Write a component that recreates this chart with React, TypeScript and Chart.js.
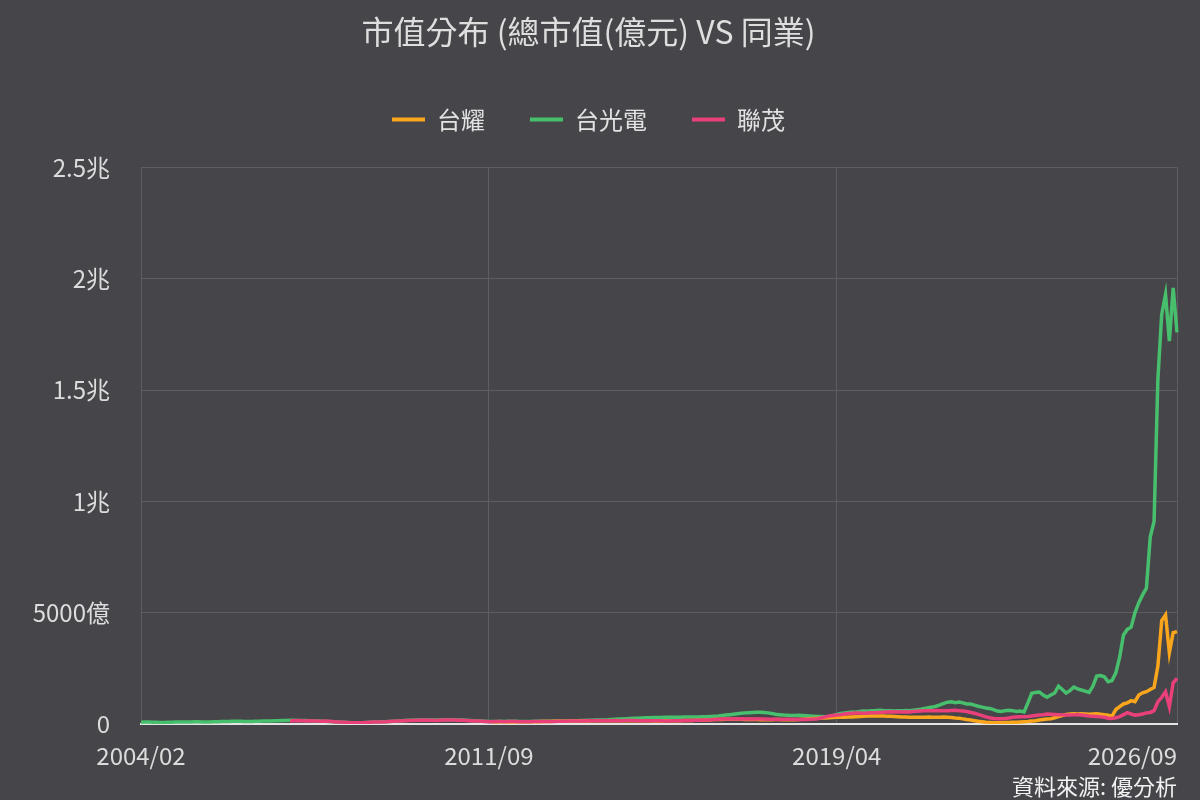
import { useEffect, useRef } from 'react';
import { Chart, registerables } from 'chart.js';

Chart.register(...registerables);

// monthly categories, 2004/02 .. 2026/09
const firstMonth = '2004/02';
const monthCount = 272;
const months: string[] = [];
for (let i = 0; i < monthCount; i++) {
    const m = 1 + i;
    months.push(`${2004 + Math.floor(m / 12)}/${String((m % 12) + 1).padStart(2, '0')}`);
}

const tickLabels = ['2004/02', '2011/09', '2019/04', '2026/09'];

// 總市值 (億元)
const taiguangStart = firstMonth;
const taiguang = [
    80, 85, 85, 80, 75, 70, 70, 75, 80, 85, 90, // 2004
    90, 95, 95, 100, 100, 95, 90, 95, 100, 105, 110, 110,
    115, 120, 125, 120, 115, 110, 115, 120, 125, 130, 135, 140,
    145, 150, 155, 160, 165, 165, 160, 160, 155, 150, 145, 140,
    130, 125, 115, 105, 95, 85, 80, 70, 60, 55, 55, 60, // 2008
    70, 80, 85, 90, 100, 105, 115, 125, 135, 145, 155, 165,
    170, 180, 185, 190, 185, 180, 175, 185, 190, 195, 195, 190,
    185, 180, 170, 160, 150, 140, 130, 120, 110, 110, 115, 120,
    115, 120, 125, 120, 115, 110, 110, 115, 120, 120, 125, 120, // 2012
    125, 130, 135, 140, 140, 145, 150, 150, 155, 160, 165, 170,
    175, 180, 185, 190, 200, 210, 220, 230, 240, 250, 255, 260,
    270, 280, 285, 290, 290, 295, 300, 300, 305, 300, 305, 310,
    310, 315, 320, 320, 325, 330, 340, 350, 360, 380, 400, 420, // 2016
    440, 460, 480, 500, 510, 520, 525, 530, 520, 500, 470, 440,
    420, 400, 390, 380, 385, 390, 380, 370, 360, 350, 340, 340,
    330, 340, 380, 430, 470, 500, 520, 540, 530, 560, 580, 570,
    590, 600, 620, 610, 590, 600, 580, 600, 590, 610, 600, 620, // 2020
    640, 660, 700, 730, 760, 800, 860, 930, 980, 1000, 960, 990,
    950, 900, 900, 850, 800, 760, 720, 700, 650, 580, 560, 600,
    620, 600, 560, 580, 540, 950, 1380, 1420, 1440, 1300, 1200, 1300,
    1390, 1700, 1550, 1390, 1500, 1660, 1580, 1530, 1480, 1420, 1700, 2150, // 2024
    2180, 2120, 1900, 1950, 2300, 3000, 4000, 4250, 4350, 5000, 5450, 5800,
    6100, 8400, 9100, 15500, 18400, 19300, 17200, 19600, 17600, // 2026
];

const lianmaoStart = '2007/05';
const lianmao = [
    140, 150, 160, 150, 140, 150, 140, 130, // 2007
    120, 130, 120, 110, 90, 85, 80, 70, 60, 55, 55, 60,
    70, 80, 85, 90, 95, 100, 110, 120, 130, 140, 150, 160,
    160, 170, 170, 175, 170, 165, 160, 170, 175, 180, 180, 175, // 2010
    170, 165, 160, 150, 140, 130, 120, 110, 100, 100, 110, 110,
    105, 110, 115, 110, 105, 100, 100, 105, 110, 110, 115, 110,
    110, 115, 120, 125, 125, 130, 130, 135, 140, 140, 145, 150,
    150, 145, 150, 150, 150, 155, 150, 150, 155, 160, 155, 150, // 2014
    150, 145, 150, 150, 150, 145, 140, 140, 145, 150, 150, 155,
    160, 160, 165, 170, 175, 180, 190, 200, 210, 220, 225, 230,
    225, 230, 235, 230, 225, 220, 230, 225, 220, 215, 210, 210,
    205, 210, 210, 215, 210, 205, 200, 200, 210, 220, 240, 280, // 2018
    320, 360, 380, 400, 420, 450, 470, 480, 490, 490, 480, 490,
    500, 510, 520, 530, 540, 550, 540, 550, 540, 550, 540, 560,
    570, 580, 590, 600, 600, 610, 600, 590, 600, 610, 620, 600,
    580, 560, 520, 480, 430, 380, 320, 280, 250, 240, 240, 250, // 2022
    270, 300, 320, 330, 330, 340, 360, 380, 400, 420, 450, 440,
    430, 420, 410, 400, 400, 410, 420, 400, 380, 360, 350, 340,
    320, 300, 260, 250, 280, 330, 420, 510, 450, 400, 420, 450,
    500, 520, 600, 1000, 1200, 1450, 780, 1850, 2050, // 2026
];

const taiyaoStart = '2011/10';
const taiyao = [
    90, 95, 100, // 2011
    100, 95, 90, 95, 100, 100, 105, 100, 100, 105, 110, 110,
    115, 120, 120, 125, 125, 130, 130, 135, 140, 140, 140, 145,
    145, 150, 150, 145, 150, 150, 150, 145, 145, 150, 150, 150, // 2014
    150, 150, 145, 140, 140, 140, 145, 145, 150, 150, 150, 155,
    160, 160, 165, 170, 175, 180, 190, 200, 200, 205, 210, 210,
    210, 215, 210, 205, 200, 200, 200, 195, 195, 190, 195, 200,
    200, 195, 190, 190, 195, 200, 210, 220, 240, 250, 260, 270, // 2018
    270, 280, 290, 300, 300, 300, 310, 320, 330, 340, 350, 360,
    360, 360, 360, 355, 350, 350, 340, 330, 320, 310, 300, 300,
    300, 300, 300, 310, 300, 300, 300, 310, 300, 290, 270, 255,
    230, 200, 180, 150, 120, 100, 80, 70, 60, 60, 60, 70, // 2022
    70, 80, 80, 90, 100, 110, 130, 150, 180, 200, 220, 240,
    280, 330, 380, 430, 450, 460, 450, 460, 450, 440, 450, 460,
    440, 420, 400, 350, 650, 780, 900, 950, 1050, 1000, 1300, 1400,
    1450, 1550, 1650, 2600, 4650, 4900, 3200, 4100, 4150, // 2026
];

const fromMonth = (start: string, values: number[]) => [
    ...months.slice(0, months.indexOf(start)).map(() => null),
    ...values,
];

const formatYi = (v: number) => {
    if (v === 0) return '0';
    if (v < 10000) return `${v}億`;
    return `${v / 10000}兆`;
};

// keep the last x label inside the plot, like the original
const lastTickInside = {
    id: 'lastTickInside',
    beforeDraw(chart: any) {
        const items = chart.scales.x.getLabelItems();
        const last = items[items.length - 1];
        if (last) last.options.textAlign = 'right';
    },
};

const MarketCapChart = () => {
    const chartRef = useRef<HTMLCanvasElement | null>(null);

    useEffect(() => {
        if (!chartRef.current) return;
        const ctx = chartRef.current.getContext('2d');
        if (!ctx) return;

        Chart.defaults.font.family = '"Noto Sans CJK TC", "Noto Sans", sans-serif';
        const tickIdx = tickLabels.map((l) => months.indexOf(l));

        const myChart = new Chart(ctx, {
            type: 'line',
            data: {
                labels: months,
                datasets: [
                    {
                        label: '台耀',
                        data: fromMonth(taiyaoStart, taiyao),
                        borderColor: '#f9a61c',
                        backgroundColor: '#f9a61c',
                        order: 1,
                    },
                    {
                        label: '台光電',
                        data: fromMonth(taiguangStart, taiguang),
                        borderColor: '#48bf6c',
                        backgroundColor: '#48bf6c',
                        order: 2,
                    },
                    {
                        label: '聯茂',
                        data: fromMonth(lianmaoStart, lianmao),
                        borderColor: '#e9407a',
                        backgroundColor: '#e9407a',
                        order: 0,
                    },
                ],
            },
            options: {
                animation: false,
                responsive: true,
                maintainAspectRatio: false,
                layout: { padding: { left: 0, right: 23, top: 0, bottom: 0 } },
                elements: {
                    line: { borderWidth: 3.5, tension: 0 },
                    point: { radius: 0 },
                },
                scales: {
                    x: {
                        afterBuildTicks: (scale: any) => {
                            scale.ticks = tickIdx.map((v) => ({ value: v }));
                        },
                        afterFit: (scale: any) => {
                            scale.paddingRight = 0;
                            scale.height = 76;
                        },
                        ticks: {
                            autoSkip: false,
                            maxRotation: 0,
                            padding: 17,
                            color: '#dcdcdc',
                            font: { size: 24 },
                        },
                        grid: { color: '#5e5d62', drawTicks: false },
                        border: { color: '#e4e4e4', width: 2 },
                        title: {
                            display: true,
                            text: '資料來源: 優分析',
                            align: 'end',
                            color: '#f2f2f2',
                            font: { size: 22 },
                            padding: { top: 3, bottom: 0 },
                        },
                    },
                    y: {
                        min: 0,
                        max: 25000,
                        afterFit: (scale: any) => {
                            scale.width = 141;
                        },
                        ticks: {
                            stepSize: 5000,
                            padding: 31,
                            color: '#dcdcdc',
                            font: { size: 24 },
                            callback: (v: any) => formatYi(Number(v)),
                        },
                        grid: { color: '#5e5d62', drawTicks: false },
                        border: { display: false },
                    },
                },
                plugins: {
                    title: {
                        display: true,
                        text: '市值分布 (總市值(億元) VS 同業)',
                        color: '#dedede',
                        font: { size: 32, weight: 'normal' },
                        padding: { top: 13, bottom: 11 },
                    },
                    legend: {
                        labels: {
                            color: '#e2e2e2',
                            font: { size: 24 },
                            boxWidth: 33,
                            boxHeight: 4,
                            padding: 45,
                            generateLabels: (chart: any) =>
                                Chart.defaults.plugins.legend.labels
                                    .generateLabels(chart)
                                    .map((item: any) => ({ ...item, lineWidth: 0 }))
                                    .sort((a: any, b: any) => a.datasetIndex - b.datasetIndex),
                        },
                    },
                    // spacer between legend and plot
                    subtitle: {
                        display: true,
                        text: ' ',
                        position: 'top',
                        weight: 500,
                        font: { size: 1 },
                        padding: { top: 0, bottom: 25 },
                    },
                    tooltip: { enabled: false },
                },
            },
            plugins: [lastTickInside],
        });

        return () => myChart.destroy();
    }, []);

    return (
        <div style={{ position: 'fixed', left: 0, top: 0, width: 1200, height: 800, background: '#46454a' }}>
            <canvas ref={chartRef} />
        </div>
    );
};

export default function App() {
    return <MarketCapChart />;
}
